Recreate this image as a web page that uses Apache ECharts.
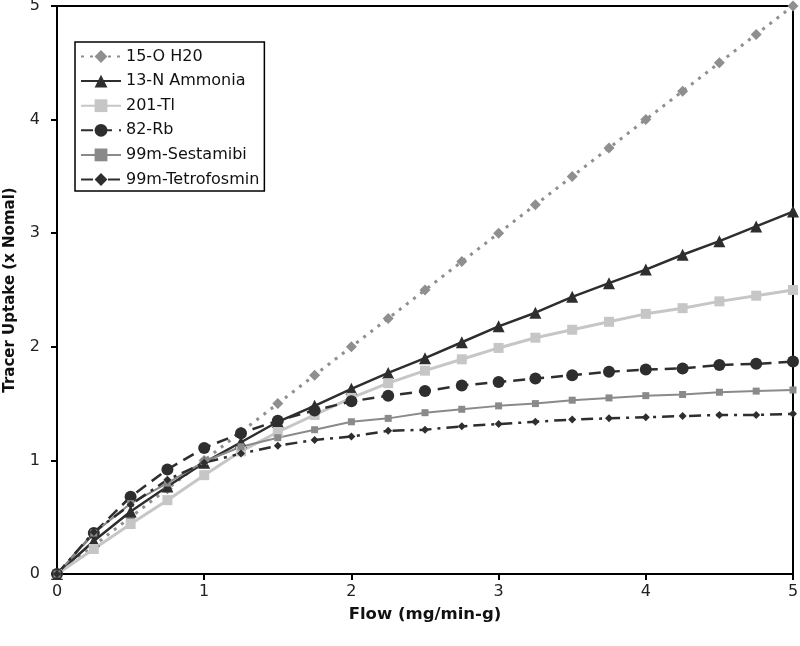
<!DOCTYPE html>
<html><head><meta charset="utf-8">
<script src="https://cdn.jsdelivr.net/npm/echarts@6/dist/echarts.min.js"></script>
<style>html,body{margin:0;padding:0;background:#fff}#c{width:800px;height:646px}</style>
</head><body><div id="c"></div>
<script>
const flows = [0,0.25,0.5,0.75,1,1.25,1.5,1.75,2,2.25,2.5,2.75,3,3.25,3.5,3.75,4,4.25,4.5,4.75,5];
const h2o = [0,0.25,0.5,0.75,1,1.25,1.5,1.75,2,2.25,2.5,2.75,3,3.25,3.5,3.75,4,4.25,4.5,4.75,5];
const ammonia = [0,0.29,0.55,0.77,0.98,1.16,1.34,1.48,1.63,1.77,1.90,2.04,2.18,2.30,2.44,2.56,2.68,2.81,2.93,3.06,3.19];
const tl = [0,0.22,0.44,0.65,0.87,1.08,1.25,1.40,1.55,1.68,1.79,1.89,1.99,2.08,2.15,2.22,2.29,2.34,2.40,2.45,2.50];
const rb = [0,0.36,0.68,0.92,1.11,1.24,1.35,1.44,1.52,1.57,1.61,1.66,1.69,1.72,1.75,1.78,1.80,1.81,1.84,1.85,1.87];
const sestamibi = [0,0.36,0.62,0.80,0.99,1.12,1.20,1.27,1.34,1.37,1.42,1.45,1.48,1.50,1.53,1.55,1.57,1.58,1.60,1.61,1.62];
const tetrofosmin = [0,0.37,0.61,0.83,0.98,1.06,1.13,1.18,1.21,1.26,1.27,1.30,1.32,1.34,1.36,1.37,1.38,1.39,1.40,1.40,1.41];
const names = ['15-O H20','13-N Ammonia','201-Tl','82-Rb','99m-Sestamibi','99m-Tetrofosmin'];
const xTicks = [0,1,2,3,4,5];
const yTicks = [0,1,2,3,4,5];

const pairs = arr => flows.map((f,i)=>[f,arr[i]]);
const font = '"DejaVu Sans", sans-serif';
function mk(name, arr, color, lineType, width, symbol, size){
  return {name, type:'line', data:pairs(arr), symbol, symbolSize:size,
    itemStyle:{color}, lineStyle:{color, type:lineType, width},
    emphasis:{disabled:true}, animation:false, z:3};
}
const chart = echarts.init(document.getElementById('c'));
chart.setOption({
  animation:false,
  grid:{left:57,right:7,top:6,bottom:72,containLabel:false,outerBoundsMode:'none',show:true,borderColor:'#000',borderWidth:2,backgroundColor:'transparent'},
  xAxis:{type:'value',min:0,max:5,interval:1,
    name:'Flow (mg/min-g)',nameLocation:'middle',nameGap:32,
    nameTextStyle:{fontFamily:font,fontWeight:'bold',fontSize:16.5,color:'#111'},
    axisLine:{lineStyle:{color:'#000',width:2}},
    axisTick:{show:true,length:6,lineStyle:{color:'#000',width:2}},
    axisLabel:{fontFamily:font,fontSize:16,color:'#222',margin:10,formatter:v=>xTicks.includes(v)?String(v):''},
    splitLine:{show:false}},
  yAxis:{type:'value',min:0,max:5,interval:1,
    name:'Tracer Uptake (x Nomal)',nameLocation:'middle',nameGap:39,
    nameTextStyle:{fontFamily:font,fontWeight:'bold',fontSize:15,color:'#111'},
    axisLine:{show:true,lineStyle:{color:'#000',width:2}},
    axisTick:{show:true,length:6,lineStyle:{color:'#000',width:2}},
    axisLabel:{fontFamily:font,fontSize:16,color:'#222',margin:17,formatter:v=>yTicks.includes(v)?String(v):''},
    splitLine:{show:false}},
  legend:{orient:'vertical',left:75,top:42,itemWidth:40,itemHeight:16,itemGap:8.6,
    padding:[6.5,5,3.5,5],borderColor:'#000',borderWidth:1.5,backgroundColor:'#fff',
    textStyle:{fontFamily:font,fontSize:16,color:'#111'},data:names},
  series:[
    mk(names[0],h2o,'#8f8f8f',[3,6],3,'diamond',11),
    mk(names[1],ammonia,'#2e2e2e','solid',2.5,'triangle',12),
    mk(names[2],tl,'#c6c6c6','solid',3,'rect',10),
    mk(names[3],rb,'#2e2e2e',[12,7],2.5,'circle',12),
    mk(names[4],sestamibi,'#8a8a8a','solid',2,'rect',7),
    mk(names[5],tetrofosmin,'#2e2e2e',[12,6,3,6],2.5,'diamond',8)
  ]
});
</script></body></html>
